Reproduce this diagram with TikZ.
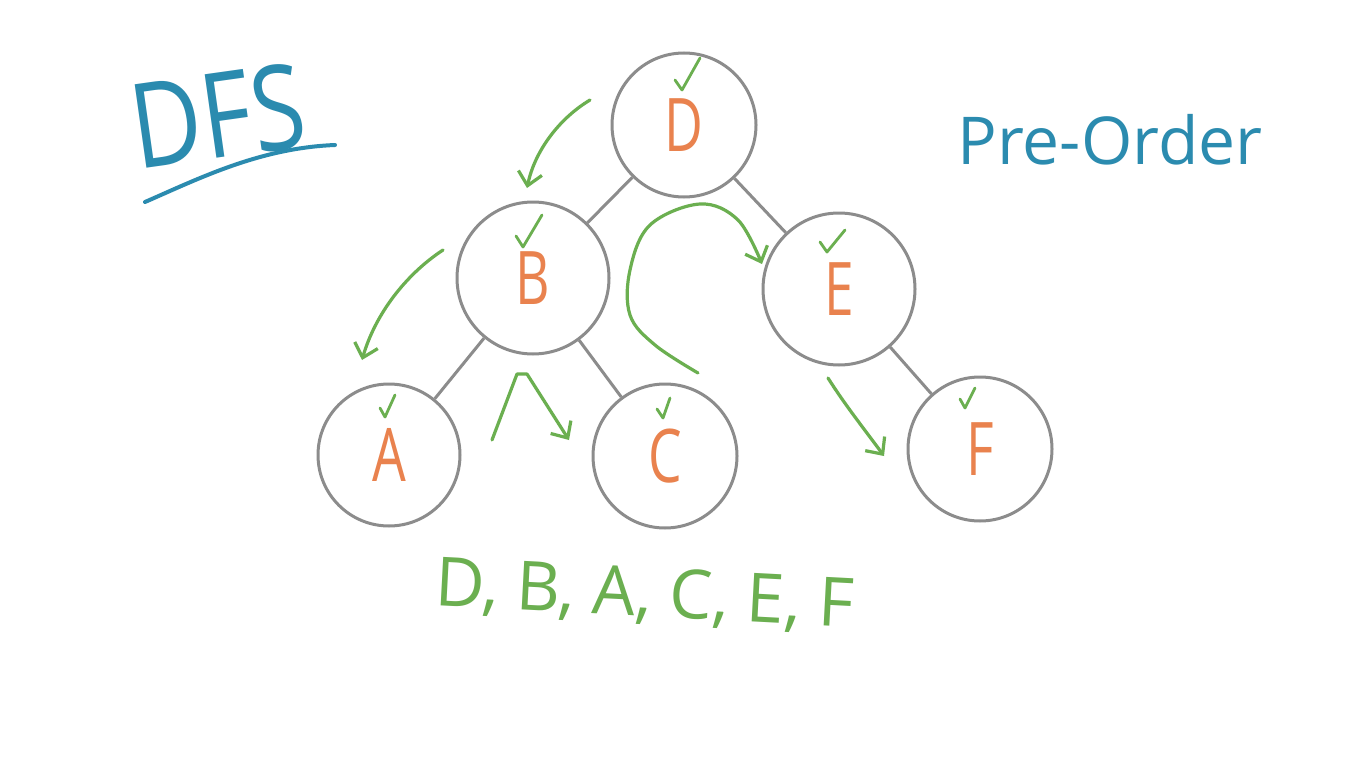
\documentclass[tikz,border=0pt]{standalone}
\usepackage{fontspec}
\setmainfont{Open Sans}
\usetikzlibrary{arrows.meta}
\definecolor{gcirc}{HTML}{8C8C8C}
\definecolor{ored}{HTML}{E9824E}
\definecolor{grn}{HTML}{6BAF50}
\definecolor{blu}{HTML}{2B8BAF}
\begin{document}
\begin{tikzpicture}[x=1pt,y=-1pt,
  vertex/.style={circle,draw=gcirc,line width=3pt,inner sep=0pt,text=ored,
    font=\fontsize{74}{74}\selectfont},
  edge/.style={draw=gcirc,line width=3pt},
  trail/.style={draw=grn,line width=3.2pt,line cap=round,line join=round},
  trailarrow/.style={trail,-{Straight Barb[length=13pt,width=24pt]}},
  tick/.style={trail,line width=2.8pt},
  bluestroke/.style={draw=blu,line width=4pt,line cap=round},
  handtext/.style={inner sep=0pt},
]
\useasboundingbox[fill=white] (0,0) rectangle (1366,768);

% tree nodes
\node[vertex,minimum size=144pt] (D) at (684,125) {\scalebox{0.72}[1]{D}};
\node[vertex,minimum size=152pt] (B) at (533,278) {\scalebox{0.72}[1]{B}};
\node[vertex,minimum size=152pt] (E) at (839,289) {\scalebox{0.72}[1]{E}};
\node[vertex,minimum size=142pt] (A) at (389,455) {\scalebox{0.72}[1]{A}};
\node[vertex,minimum size=144pt] (C) at (665,456) {\scalebox{0.72}[1]{C}};
\node[vertex,minimum size=144pt] (F) at (980,449) {\scalebox{0.72}[1]{F}};

% tree edges
\draw[edge] (D) -- (B);
\draw[edge] (D) -- (E);
\draw[edge] (B) -- (A);
\draw[edge] (B) -- (C);
\draw[edge] (E) -- (F);

% visited ticks
\draw[tick] (675,80) -- (682,90) -- (700,58);
\draw[tick] (516,236) -- (523,247) -- (542,215);
\draw[tick] (820,242) -- (827,252) -- (845,230);
\draw[tick] (380,408) -- (385,417) -- (395,395);
\draw[tick] (657,409) -- (663,418) -- (670,398);
\draw[tick] (960,399) -- (965,408) -- (975,388);

% traversal arrows
\coordinate (t1s) at (590,100); \coordinate (t1e) at (527,188);
\draw[trailarrow] (t1s) .. controls (560,118) and (535,150) .. (t1e);
\coordinate (t2s) at (443,250); \coordinate (t2e) at (362,360);
\draw[trailarrow] (t2s) .. controls (405,275) and (375,315) .. (t2e);
\coordinate (t3s) at (492,440); \coordinate (t3e) at (569,440);
\draw[trailarrow] (t3s) -- (517,374) -- (527,374) -- (t3e);
\coordinate (t4s) at (698,373); \coordinate (t4e) at (762,264);
\draw[trailarrow] plot[smooth,tension=0.6] coordinates
  {(t4s) (655,345) (630,315) (630,270) (650,225) (700,204) (738,220) (t4e)};
\coordinate (t5s) at (828,378); \coordinate (t5e) at (884,456);
\draw[trailarrow] (t5s) .. controls (845,405) and (865,430) .. (t5e);

% headings
\node[handtext,text=blu,font=\fontsize{118}{118}\selectfont,rotate=8] (dfs) at (218,116)
  {\scalebox{0.82}[1]{DFS}};
\coordinate (u1) at (145,202); \coordinate (u2) at (335,145);
\draw[bluestroke] (u1) .. controls (200,178) and (260,148) .. (u2);
\node[handtext,text=blu,font=\fontsize{66}{66}\selectfont] (pre) at (1110,140) {Pre-Order};

% result sequence
\node[handtext,text=grn,font=\fontsize{68}{68}\selectfont,rotate=-3] (seq) at (645,596)
  {D, B, A, C, E, F};
\end{tikzpicture}
\end{document}
